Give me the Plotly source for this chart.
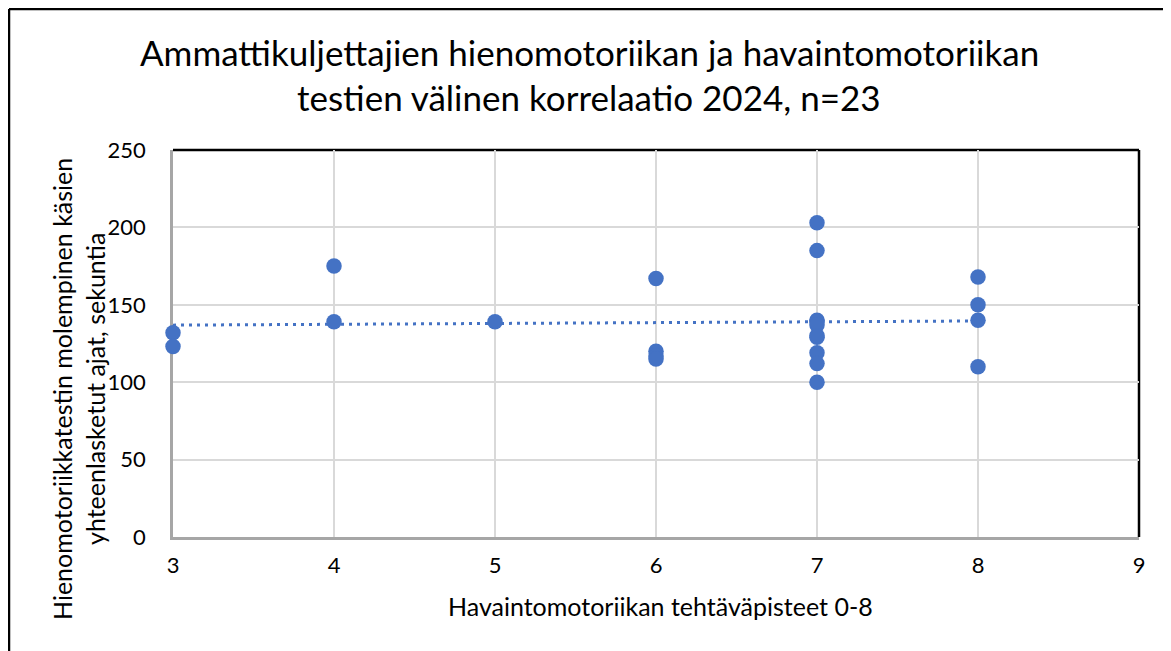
import numpy as np
import plotly.graph_objects as go

# Data
havainto_pisteet = [3, 3, 4, 4, 5, 6, 6, 6, 6,
                    7, 7, 7, 7, 7, 7, 7, 7, 7, 7,
                    8, 8, 8, 8]
hieno_ajat = [132, 123, 175, 139, 139, 167, 120, 117, 115,
              203, 185, 140, 139, 137, 130, 129, 119, 112, 100,
              168, 150, 140, 110]

title_lines = ["Ammattikuljettajien hienomotoriikan ja havaintomotoriikan",
               "testien välinen korrelaatio 2024, n=23"]
x_title = "Havaintomotoriikan tehtäväpisteet 0-8"
y_title_lines = ["Hienomotoriikkatestin molempinen käsien",
                 "yhteenlasketut ajat, sekuntia"]
x_ticks = [3, 4, 5, 6, 7, 8, 9]
y_ticks = [0, 50, 100, 150, 200, 250]

# Linear trendline (least squares) over the data range
xs = np.array(havainto_pisteet, dtype=float)
ys = np.array(hieno_ajat, dtype=float)
slope, intercept = np.polyfit(xs, ys, 1)
trend_x = [xs.min(), xs.max()]
trend_y = [slope * v + intercept for v in trend_x]

FONT = "Lato"
BLUE = "#4472C4"

# page is offset by the 8px body margin
OFF = 8
W, H = 1171 - OFF, 651 - OFF
# plot area in page pixels
PL, PR, PT, PB = 173, 1139, 150, 537
L, T = PL - OFF, PT - OFF
R, B = W - (PR - OFF), H - (PB - OFF)
pw, ph = PR - PL, PB - PT


def px(x):
    return (x - PL) / pw


def py(y):
    return (PB - y) / ph


fig = go.Figure()
fig.add_trace(go.Scatter(
    x=trend_x, y=trend_y, mode="lines",
    line=dict(color=BLUE, width=3, dash="3px,5px"),
    hoverinfo="skip", showlegend=False, cliponaxis=False))
fig.add_trace(go.Scatter(
    x=havainto_pisteet, y=hieno_ajat, mode="markers",
    marker=dict(color=BLUE, size=15.5, line=dict(width=0)),
    showlegend=False, cliponaxis=False))

fig.update_layout(
    width=W, height=H,
    margin=dict(l=L, r=R, t=T, b=B, pad=0),
    paper_bgcolor="white", plot_bgcolor="white",
    font=dict(family=FONT, color="#000000"),
    xaxis=dict(range=[3, 9], tickvals=x_ticks, showgrid=True,
               gridcolor="#D9D9D9", gridwidth=1.5,
               showline=True, linecolor="#A6A6A6", linewidth=2.5,
               zeroline=False, ticks="", ticklabelstandoff=7,
               tickfont=dict(size=22, family=FONT, color="#000"),
               layer="below traces", fixedrange=True),
    yaxis=dict(range=[0, 250], tickvals=y_ticks, showgrid=True,
               gridcolor="#D9D9D9", gridwidth=1.5,
               showline=True, linecolor="#A6A6A6", linewidth=2.5,
               zeroline=False, ticks="", ticklabelstandoff=20,
               tickfont=dict(size=22, family=FONT, color="#000"),
               layer="below traces", fixedrange=True),
    shapes=[
        # plot-area border (top and right)
        dict(type="line", xref="paper", yref="paper", x0=0, x1=1, y0=1, y1=1,
             line=dict(color="black", width=2.5), layer="below"),
        dict(type="line", xref="paper", yref="paper", x0=1, x1=1, y0=0, y1=1,
             line=dict(color="black", width=2.5), layer="below"),
        # outer chart border (left and top edges visible)
        dict(type="line", xref="paper", yref="paper",
             x0=px(9), x1=px(9), y0=py(660), y1=py(9),
             line=dict(color="black", width=2.5)),
        dict(type="line", xref="paper", yref="paper",
             x0=px(9), x1=px(1180), y0=py(9), y1=py(9),
             line=dict(color="black", width=2.5)),
    ],
    annotations=[
        dict(text=title_lines[0], xref="paper", yref="paper",
             x=px(589), y=py(52), xanchor="center", yanchor="middle",
             showarrow=False, font=dict(size=35, family=FONT)),
        dict(text=title_lines[1], xref="paper", yref="paper",
             x=px(589), y=py(97), xanchor="center", yanchor="middle",
             showarrow=False, font=dict(size=35, family=FONT)),
        dict(text=x_title, xref="paper", yref="paper",
             x=px(660), y=py(606), xanchor="center", yanchor="middle",
             showarrow=False, font=dict(size=25, family=FONT)),
        dict(text=y_title_lines[0], xref="paper", yref="paper",
             x=px(62), y=py(389), xanchor="center", yanchor="middle",
             textangle=-90, showarrow=False, font=dict(size=25, family=FONT)),
        dict(text=y_title_lines[1], xref="paper", yref="paper",
             x=px(95), y=py(389), xanchor="center", yanchor="middle",
             textangle=-90, showarrow=False, font=dict(size=25, family=FONT)),
    ],
)

fig.write_html("out.html")
